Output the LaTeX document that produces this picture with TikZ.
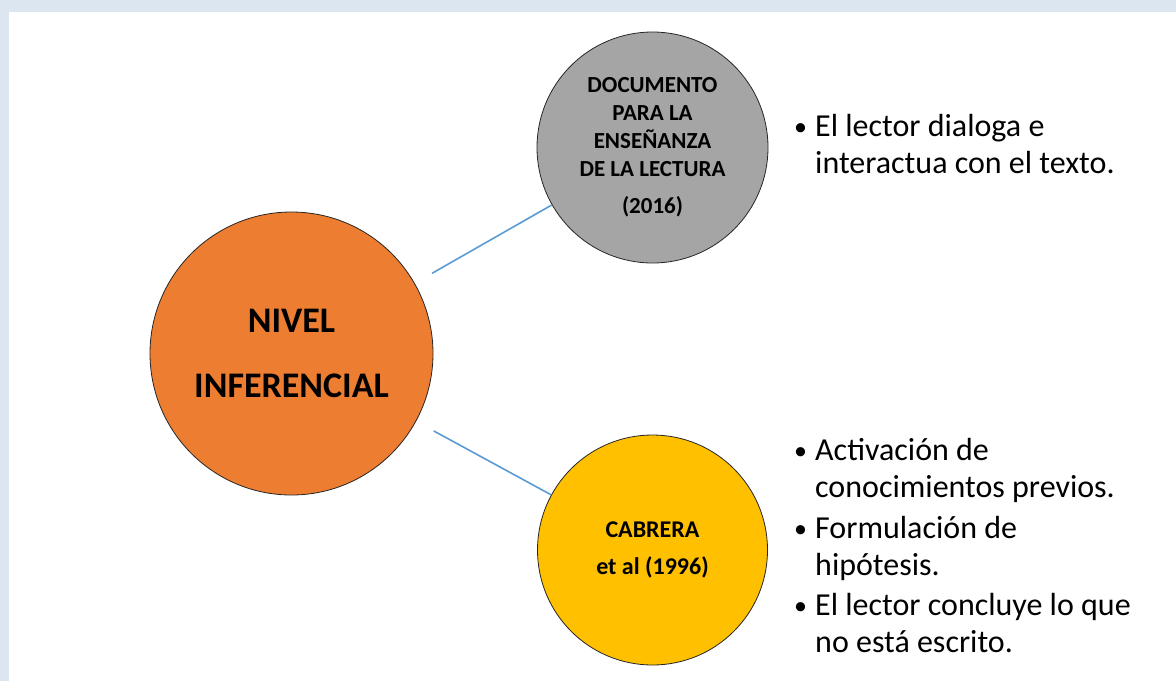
\documentclass[tikz,border=0pt]{standalone}
\usepackage{fontspec}
\setmainfont{Carlito}
\definecolor{framegray}{HTML}{DCE6F1}
\definecolor{nivelorange}{HTML}{ED7D31}
\definecolor{docgray}{HTML}{A5A5A5}
\definecolor{cabyellow}{HTML}{FFC000}
\definecolor{linkblue}{HTML}{5B9BD5}
\newcommand{\bulletitem}[2]{\makebox[22pt][l]{\hspace{1pt}\raisebox{1pt}{\fontsize{26}{26}\selectfont•}}\parbox[t]{340pt}{#1\\#2}}
\begin{document}
\begin{tikzpicture}[x=1pt,y=-1pt,
  circ/.style={circle,draw=black!85,line width=0.8pt,align=center,inner sep=0pt},
  link/.style={draw=linkblue,line width=1.6pt},
  item/.style={anchor=north west,inner sep=0pt,font=\fontsize{32}{37}\selectfont}]
\fill[framegray] (0,0) rectangle (1176,681);
\fill[white] (9,12) rectangle (1176,681);
\useasboundingbox (0,0) rectangle (1176,681);
% circles
\node[circ,fill=nivelorange,minimum size=283pt,font=\bfseries\fontsize{36}{65}\selectfont] (nivel) at (291.5,353.5) {NIVEL\\INFERENCIAL};
\node[circ,fill=docgray,minimum size=231pt,font=\bfseries\fontsize{23}{28}\selectfont] (doc) at (652.5,147.5) {DOCUMENTO\\PARA LA\\ENSEÑANZA\\DE LA LECTURA\\[9pt](2016)};
\node[circ,fill=cabyellow,minimum size=230pt,font=\bfseries\fontsize{24}{37}\selectfont] (cab) at (652.5,550) {CABRERA\\et al (1996)};
\draw[link,shorten <=20pt] (nivel) -- (doc);
\draw[link,shorten <=20pt] (nivel) -- (cab);
% lists
\node[item] (i1) at (793,114) {\bulletitem{El lector dialoga e}{interactua con el texto.}};
\node[item] (i2) at (793,438) {\bulletitem{Activación de}{conocimientos previos.}};
\node[item] (i3) at (793,516) {\bulletitem{Formulación de}{hipótesis.}};
\node[item] (i4) at (793,593) {\bulletitem{El lector concluye lo que}{no está escrito.}};
\end{tikzpicture}
\end{document}
